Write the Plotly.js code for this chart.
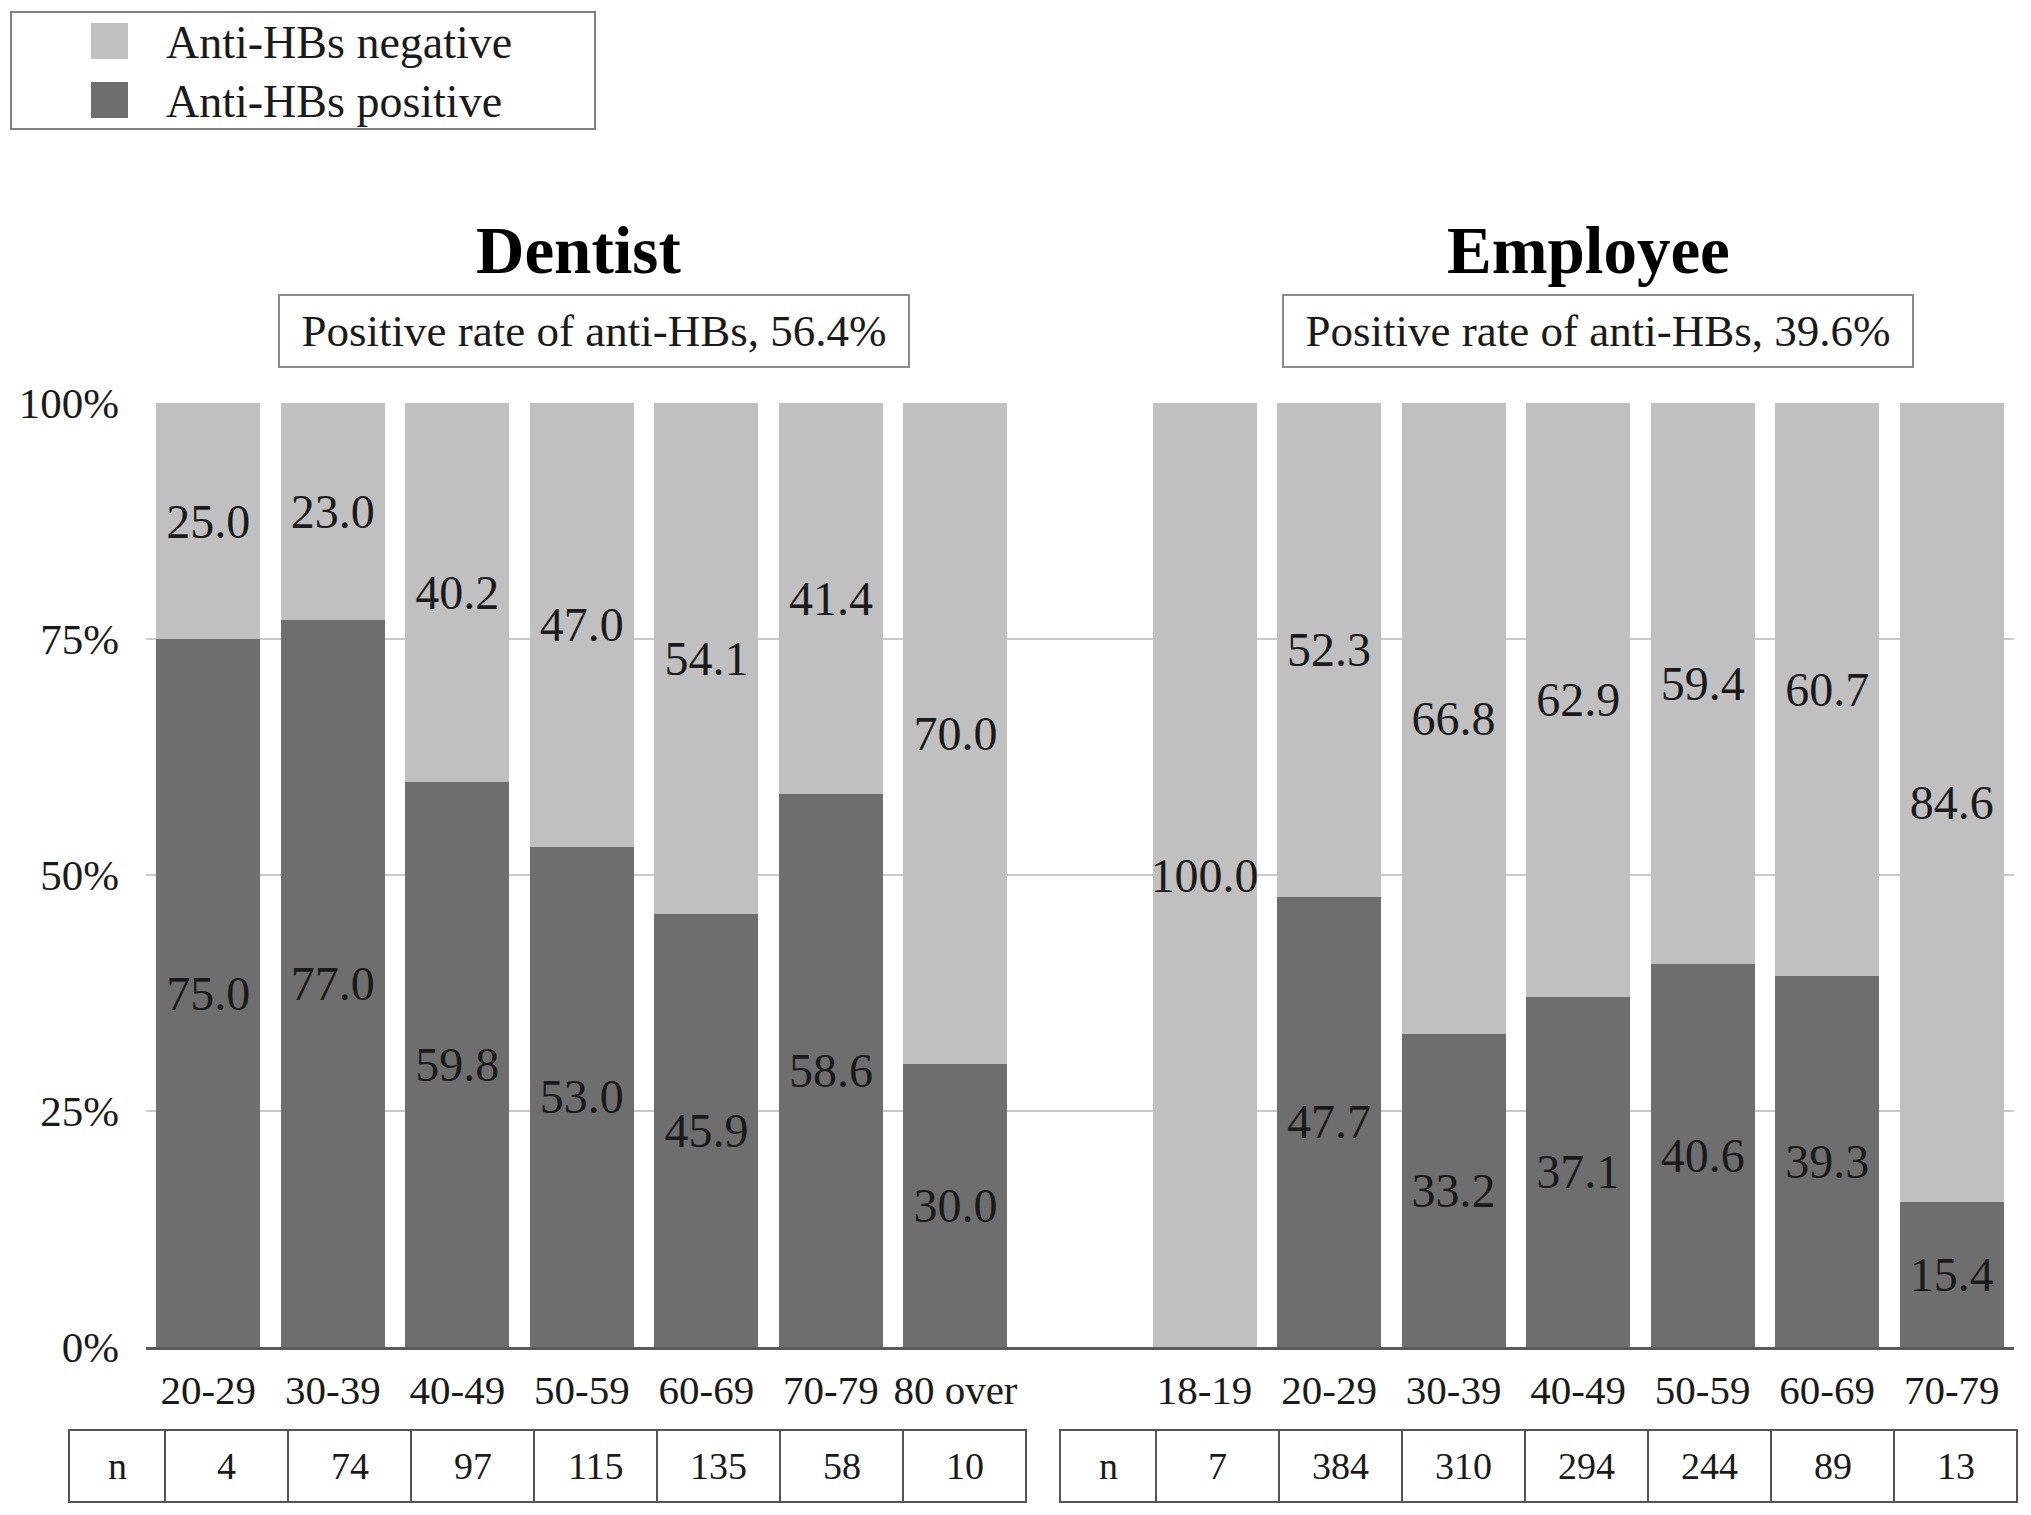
<!DOCTYPE html>
<html>
<head>
<meta charset="utf-8">
<script src="https://cdn.plot.ly/plotly-3.0.1.min.js"></script>
<style>html,body{margin:0;padding:0;background:#fff}#chart{width:2031px;height:1515px}</style>
</head>
<body>
<div id="chart"></div>
<script>
// ---------------- data ----------------
const dentistAges   = ['20-29', '30-39', '40-49', '50-59', '60-69', '70-79', '80 over'];
const dentistPos    = [75.0, 77.0, 59.8, 53.0, 45.9, 58.6, 30.0];
const dentistNeg    = [25.0, 23.0, 40.2, 47.0, 54.1, 41.4, 70.0];
const dentistN      = [4, 74, 97, 115, 135, 58, 10];
const dentistRate   = 56.4;

const employeeAges  = ['18-19', '20-29', '30-39', '40-49', '50-59', '60-69', '70-79'];
const employeePos   = [0, 47.7, 33.2, 37.1, 40.6, 39.3, 15.4];
const employeeNeg   = [100.0, 52.3, 66.8, 62.9, 59.4, 60.7, 84.6];
const employeeN     = [7, 384, 310, 294, 244, 89, 13];
const employeeRate  = 39.6;

const groupTitles   = ['Dentist', 'Employee'];
const seriesNames   = ['Anti-HBs negative', 'Anti-HBs positive'];
const yTicks        = [0, 25, 50, 75, 100];

// ---------------- layout helpers ----------------
const W = 2031, H = 1515;
const M = {l: 146, r: 17, t: 403, b: 168};
const plotW = W - M.l - M.r, plotH = H - M.t - M.b;
const xp = px => (px - M.l) / plotW;          // pixel -> paper x
const yp = py => (H - M.b - py) / plotH;      // pixel -> paper y
const FONT = 'Liberation Serif, Times New Roman, serif';
const LIGHT = '#c0c0c0', DARK = '#6e6e6e', TXT = '#1a1a1a';

const gap = 1;
const dentX = dentistAges.map((_, i) => i);
const empX = employeeAges.map((_, i) => dentistAges.length + gap + i);
const xAll = dentX.concat(empX);
const fmt = v => (v > 0 ? v.toFixed(1) : '');

const barCommon = {
  type: 'bar', x: xAll, textposition: 'inside', insidetextanchor: 'middle',
  textangle: 0, constraintext: 'none', cliponaxis: false,
  textfont: {family: FONT, size: 48, color: TXT},
  hoverinfo: 'skip', showlegend: false
};
const posY = dentistPos.concat(employeePos);
const negY = dentistNeg.concat(employeeNeg);
const traces = [
  Object.assign({}, barCommon, {name: seriesNames[1], y: posY, text: posY.map(fmt), marker: {color: DARK}}),
  Object.assign({}, barCommon, {name: seriesNames[0], y: negY, text: negY.map(fmt), marker: {color: LIGHT}})
];

const shapes = [];
const annotations = [];

// manual legend (large swatches as in the reference)
shapes.push({type: 'rect', xref: 'paper', yref: 'paper', x0: xp(11), x1: xp(595), y0: yp(12), y1: yp(129),
  line: {color: '#808080', width: 2}, fillcolor: 'rgba(0,0,0,0)'});
[[LIGHT, 41, seriesNames[0]], [DARK, 100, seriesNames[1]]].forEach(([c, cy, name]) => {
  shapes.push({type: 'rect', xref: 'paper', yref: 'paper', x0: xp(91), x1: xp(128), y0: yp(cy - 18), y1: yp(cy + 18),
    line: {width: 0}, fillcolor: c});
  annotations.push({xref: 'paper', yref: 'paper', x: xp(164), y: yp(cy + 1), xanchor: 'left', yanchor: 'middle',
    text: name, showarrow: false, font: {family: FONT, size: 46, color: TXT}});
});

// group titles and rate boxes
const titleCx = [578, 1588];
const boxCx = [594, 1598];
const rates = [dentistRate, employeeRate];
groupTitles.forEach((t, g) => {
  annotations.push({xref: 'paper', yref: 'paper', x: xp(titleCx[g]), y: yp(250), xanchor: 'center', yanchor: 'middle',
    text: '<b>' + t + '</b>', showarrow: false, font: {family: FONT, size: 67, color: '#000'}});
  annotations.push({xref: 'paper', yref: 'paper', x: xp(boxCx[g]), y: yp(331), xanchor: 'center', yanchor: 'middle',
    text: 'Positive rate of anti-HBs, ' + rates[g].toFixed(1) + '%', showarrow: false,
    width: 626, height: 68, borderpad: 1, borderwidth: 2, bordercolor: '#8a8a8a', bgcolor: '#fff',
    font: {family: FONT, size: 45, color: TXT}});
});

// n tables
const tables = [{left: 69, n: dentistN}, {left: 1060, n: employeeN}];
const nW = 96, cW = 123, tTop = 1430, tBot = 1502;
tables.forEach(tb => {
  const right = tb.left + nW + cW * tb.n.length;
  shapes.push({type: 'rect', xref: 'paper', yref: 'paper', x0: xp(tb.left), x1: xp(right), y0: yp(tTop), y1: yp(tBot),
    line: {color: '#555', width: 2}, fillcolor: 'rgba(0,0,0,0)'});
  for (let i = 0; i < tb.n.length; i++) {
    const xl = tb.left + nW + cW * i;
    shapes.push({type: 'line', xref: 'paper', yref: 'paper', x0: xp(xl), x1: xp(xl), y0: yp(tTop), y1: yp(tBot),
      line: {color: '#555', width: 2}});
    annotations.push({xref: 'paper', yref: 'paper', x: xp(xl + cW / 2), y: yp(1466), xanchor: 'center', yanchor: 'middle',
      text: String(tb.n[i]), showarrow: false, font: {family: FONT, size: 38, color: TXT}});
  }
  annotations.push({xref: 'paper', yref: 'paper', x: xp(tb.left + nW / 2), y: yp(1466), xanchor: 'center', yanchor: 'middle',
    text: 'n', showarrow: false, font: {family: FONT, size: 38, color: TXT}});
});

const layout = {
  width: W, height: H, margin: M,
  paper_bgcolor: '#fff', plot_bgcolor: '#fff',
  barmode: 'stack', bargap: 0.165, showlegend: false,
  font: {family: FONT, color: TXT},
  xaxis: {
    type: 'linear', range: [-0.5, xAll[xAll.length - 1] + 0.5],
    tickmode: 'array', tickvals: xAll, ticktext: dentistAges.concat(employeeAges),
    showgrid: false, zeroline: false, showline: true, linecolor: '#5a5a5a', linewidth: 3,
    ticks: '', ticklabelstandoff: 5, tickfont: {family: FONT, size: 41, color: TXT}, fixedrange: true
  },
  yaxis: {
    range: [0, 100], tickmode: 'array', tickvals: yTicks, ticktext: yTicks.map(v => v + '%'),
    showgrid: true, gridcolor: '#cacaca', gridwidth: 2, zeroline: false, showline: false,
    ticks: '', ticklabelstandoff: 26, tickfont: {family: FONT, size: 43, color: TXT}, fixedrange: true
  },
  shapes: shapes,
  annotations: annotations
};

Plotly.newPlot('chart', traces, layout, {displayModeBar: false, staticPlot: true});
</script>
</body>
</html>
